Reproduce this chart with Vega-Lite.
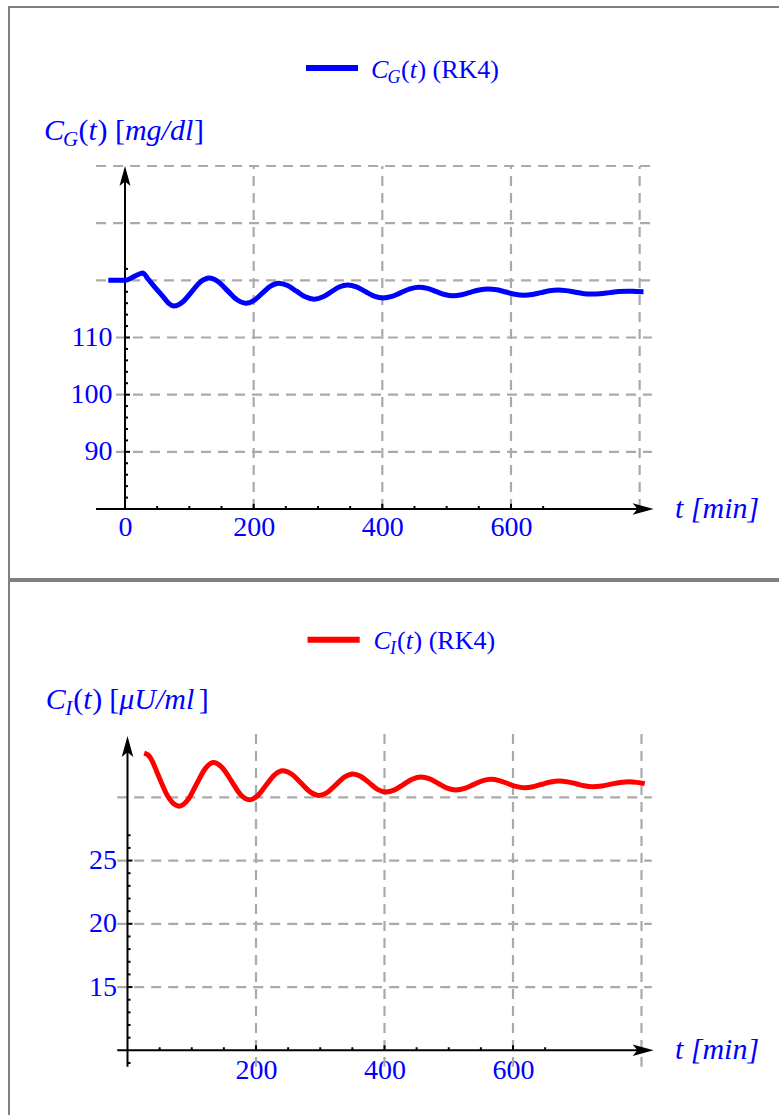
{
  "$schema": "https://vega.github.io/schema/vega-lite/v6.json",
  "padding": {"left": 8, "top": 6, "right": 0, "bottom": 0},
  "spacing": 0,
  "background": "white",
  "config": {
    "view": {"stroke": "#808080", "strokeWidth": 2},
    "font": "Liberation Serif",
    "text": {"font": "Liberation Serif", "color": "#0000ff"},
    "axis": {"labelFont": "Liberation Serif", "labelFontSize": 28, "labelColor": "#0000ff", "domain": false, "ticks": false, "grid": false, "labelFlush": false, "labelOverlap": false}
  },
  "datasets": {
    "top_line": [
      {"t": -26, "v": 120.0}, {"t": 0, "v": 120.0}, {"t": 13.75, "v": 120.65}, {"t": 27.5, "v": 121.3},
      {"t": 36, "v": 120.2}, {"t": 45.6, "v": 118.9}, {"t": 61, "v": 116.9}, {"t": 68, "v": 115.95},
      {"t": 76, "v": 115.5}, {"t": 89.6, "v": 116.22}, {"t": 103.25, "v": 117.95}, {"t": 116.9, "v": 119.68},
      {"t": 130.5, "v": 120.4}, {"t": 144.9, "v": 119.76}, {"t": 159.25, "v": 118.2}, {"t": 173.6, "v": 116.64},
      {"t": 188, "v": 116.0}, {"t": 200.75, "v": 116.51}, {"t": 213.5, "v": 117.75}, {"t": 226.25, "v": 118.99},
      {"t": 239, "v": 119.5}, {"t": 252.75, "v": 119.09}, {"t": 266.5, "v": 118.1}, {"t": 280.25, "v": 117.11},
      {"t": 294, "v": 116.7}, {"t": 307, "v": 117.07}, {"t": 320, "v": 117.95}, {"t": 333, "v": 118.84},
      {"t": 346, "v": 119.2}, {"t": 359.75, "v": 118.86}, {"t": 373.5, "v": 118.05}, {"t": 387.25, "v": 117.24},
      {"t": 401, "v": 116.9}, {"t": 415, "v": 117.18}, {"t": 429, "v": 117.85}, {"t": 443, "v": 118.52},
      {"t": 457, "v": 118.8}, {"t": 470.25, "v": 118.58}, {"t": 483.5, "v": 118.05}, {"t": 496.75, "v": 117.52},
      {"t": 510, "v": 117.3}, {"t": 523.5, "v": 117.48}, {"t": 537, "v": 117.9}, {"t": 550.5, "v": 118.32},
      {"t": 564, "v": 118.5}, {"t": 578, "v": 118.34}, {"t": 592, "v": 117.95}, {"t": 606, "v": 117.56},
      {"t": 620, "v": 117.4}, {"t": 633.25, "v": 117.53}, {"t": 646.5, "v": 117.85}, {"t": 659.75, "v": 118.17},
      {"t": 673, "v": 118.3}, {"t": 685.75, "v": 118.2}, {"t": 698.5, "v": 117.95}, {"t": 711.25, "v": 117.7},
      {"t": 724, "v": 117.6}, {"t": 738.5, "v": 117.67}, {"t": 753, "v": 117.85}, {"t": 767.5, "v": 118.03},
      {"t": 782, "v": 118.1}, {"t": 794, "v": 118.05}, {"t": 806, "v": 118.0}
    ],
    "bot_line": [
      {"t": 26, "v": 33.5}, {"t": 31, "v": 33.38}, {"t": 36, "v": 33.1}, {"t": 47, "v": 31.85},
      {"t": 62.5, "v": 30.1}, {"t": 72.9, "v": 29.45}, {"t": 80.7, "v": 29.3}, {"t": 94.0, "v": 29.8},
      {"t": 107.35, "v": 31.03}, {"t": 120.7, "v": 32.25}, {"t": 134, "v": 32.75}, {"t": 147.9, "v": 32.32},
      {"t": 161.8, "v": 31.28}, {"t": 175.7, "v": 30.23}, {"t": 189.6, "v": 29.8}, {"t": 202.6, "v": 30.14},
      {"t": 215.55, "v": 30.95}, {"t": 228.5, "v": 31.76}, {"t": 241.5, "v": 32.1}, {"t": 255.75, "v": 31.82},
      {"t": 270, "v": 31.13}, {"t": 284.25, "v": 30.43}, {"t": 298.5, "v": 30.15}, {"t": 311.5, "v": 30.4},
      {"t": 324.5, "v": 31.0}, {"t": 337.5, "v": 31.6}, {"t": 350.5, "v": 31.85}, {"t": 363.4, "v": 31.64},
      {"t": 376.25, "v": 31.14}, {"t": 389.1, "v": 30.63}, {"t": 402, "v": 30.42}, {"t": 415.7, "v": 30.59},
      {"t": 429.4, "v": 31.01}, {"t": 443.1, "v": 31.43}, {"t": 456.8, "v": 31.6}, {"t": 470.35, "v": 31.45},
      {"t": 483.9, "v": 31.09}, {"t": 497.45, "v": 30.73}, {"t": 511, "v": 30.58}, {"t": 524.7, "v": 30.7},
      {"t": 538.4, "v": 31.0}, {"t": 552.1, "v": 31.3}, {"t": 565.8, "v": 31.42}, {"t": 578.75, "v": 31.32},
      {"t": 591.7, "v": 31.09}, {"t": 604.65, "v": 30.86}, {"t": 617.6, "v": 30.76}, {"t": 631.2, "v": 30.84},
      {"t": 644.8, "v": 31.03}, {"t": 658.4, "v": 31.21}, {"t": 672, "v": 31.29}, {"t": 685, "v": 31.22},
      {"t": 698, "v": 31.07}, {"t": 711, "v": 30.91}, {"t": 724, "v": 30.84}, {"t": 738.25, "v": 30.9},
      {"t": 752.5, "v": 31.04}, {"t": 766.75, "v": 31.17}, {"t": 781, "v": 31.23}, {"t": 793, "v": 31.18},
      {"t": 805, "v": 31.08}
    ],
    "xt_minor": [{"t": 50}, {"t": 100}, {"t": 150}, {"t": 250}, {"t": 300}, {"t": 350}, {"t": 450}, {"t": 500}, {"t": 550}, {"t": 650}],
    "xt_major": [{"t": 200}, {"t": 400}, {"t": 600}],
    "top_yt_minor": [{"v": 82}, {"v": 84}, {"v": 86}, {"v": 88}, {"v": 92}, {"v": 94}, {"v": 96}, {"v": 98}, {"v": 102}, {"v": 104}, {"v": 106}, {"v": 108}, {"v": 112}, {"v": 114}, {"v": 116}, {"v": 118}, {"v": 120}, {"v": 122}],
    "top_yt_major": [{"v": 90}, {"v": 100}, {"v": 110}],
    "bot_yt_minor": [{"v": 9}, {"v": 11}, {"v": 12}, {"v": 13}, {"v": 14}, {"v": 16}, {"v": 17}, {"v": 18}, {"v": 19}, {"v": 21}, {"v": 22}, {"v": 23}, {"v": 24}, {"v": 26}, {"v": 27}],
    "bot_yt_major": [{"v": 15}, {"v": 20}, {"v": 25}],
    "vgrid": [{"t": 200}, {"t": 400}, {"t": 600}, {"t": 800}],
    "top_hgrid_open": [{"v": 120}, {"v": 130}, {"v": 140}],
    "top_hgrid_labelled": [{"v": 90}, {"v": 100}, {"v": 110}],
    "bot_hgrid": [{"v": 15}, {"v": 20}, {"v": 25}, {"v": 30}]
  },
  "vconcat": [
    {
      "width": 780,
      "height": 572,
      "layer": [
        {"data": {"name": "top_line"}, "mark": {"type": "line", "color": "#0000ff", "strokeWidth": 5, "interpolate": "monotone", "opacity": 0},
         "encoding": {
           "x": {"field": "t", "type": "quantitative", "scale": {"domain": [-180.32, 1032.18], "nice": false, "zero": false},
                 "axis": {"orient": "bottom", "offset": -70, "values": [0, 200, 400, 600], "labelPadding": 4, "title": null, "domain": false, "ticks": false, "grid": false}},
           "y": {"field": "v", "type": "quantitative", "scale": {"domain": [67.756, 167.81], "nice": false, "zero": false},
                 "axis": {"orient": "left", "offset": -116, "values": [90, 100, 110], "labelPadding": 13, "title": null, "domain": false, "ticks": false, "grid": false}}
         }},
        {"data": {"name": "vgrid"}, "mark": {"type": "rule", "color": "#aaaaaa", "strokeWidth": 2.2, "strokeDash": [10, 7]},
         "encoding": {"x": {"field": "t", "type": "quantitative"}, "y": {"datum": 80}, "y2": {"datum": 140}}},
        {"data": {"name": "top_hgrid_open"}, "mark": {"type": "rule", "color": "#aaaaaa", "strokeWidth": 2.2, "strokeDash": [10, 7]},
         "encoding": {"y": {"field": "v", "type": "quantitative"}, "x": {"datum": -45}, "x2": {"datum": 819}}},
        {"data": {"name": "top_hgrid_labelled"}, "mark": {"type": "rule", "color": "#aaaaaa", "strokeWidth": 2.2, "strokeDash": [10, 7]},
         "encoding": {"y": {"field": "v", "type": "quantitative"}, "x": {"datum": -14}, "x2": {"datum": 819}}},
        {"data": {"values": [{}]}, "mark": {"type": "rule", "color": "black", "strokeWidth": 2},
         "encoding": {"x": {"datum": -45}, "x2": {"datum": 800}, "y": {"datum": 80}}},
        {"data": {"values": [{}]}, "mark": {"type": "rule", "color": "black", "strokeWidth": 2},
         "encoding": {"x": {"datum": 0}, "y": {"datum": 80}, "y2": {"datum": 138}}},
        {"data": {"values": [{}]}, "mark": {"type": "point", "shape": "M1,0L-1,-0.55L-0.55,0L-1,0.55Z", "size": 441, "filled": true, "color": "black", "opacity": 1, "strokeWidth": 0},
         "encoding": {"x": {"datum": 805.5}, "y": {"datum": 80}}},
        {"data": {"values": [{}]}, "mark": {"type": "point", "shape": "M0,-1L0.55,1L0,0.55L-0.55,1Z", "size": 400, "filled": true, "color": "black", "opacity": 1, "strokeWidth": 0},
         "encoding": {"x": {"datum": 0}, "y": {"datum": 138.25}}},
        {"data": {"name": "xt_minor"}, "mark": {"type": "rule", "color": "black", "strokeWidth": 2},
         "encoding": {"x": {"field": "t", "type": "quantitative"}, "y": {"datum": 80}, "y2": {"datum": 80.52}}},
        {"data": {"name": "xt_major"}, "mark": {"type": "rule", "color": "black", "strokeWidth": 2},
         "encoding": {"x": {"field": "t", "type": "quantitative"}, "y": {"datum": 80}, "y2": {"datum": 80.9}}},
        {"data": {"name": "top_yt_minor"}, "mark": {"type": "rule", "color": "black", "strokeWidth": 2},
         "encoding": {"y": {"field": "v", "type": "quantitative"}, "x": {"datum": 0}, "x2": {"datum": 4.7}}},
        {"data": {"name": "top_yt_major"}, "mark": {"type": "rule", "color": "black", "strokeWidth": 2},
         "encoding": {"y": {"field": "v", "type": "quantitative"}, "x": {"datum": 0}, "x2": {"datum": 7.8}}},
        {"data": {"name": "top_line"}, "mark": {"type": "line", "color": "#0000ff", "strokeWidth": 5, "interpolate": "monotone"},
         "encoding": {"x": {"field": "t", "type": "quantitative"}, "y": {"field": "v", "type": "quantitative"}}},
        {"data": {"values": [{}]}, "mark": {"type": "rule", "color": "#0000ff", "strokeWidth": 6},
         "encoding": {"x": {"datum": 281.4}, "x2": {"datum": 362.2}, "y": {"datum": 157.14}}},
        {"data": {"values": [{"s": "C"}]}, "mark": {"type": "text", "fontSize": 26, "fontStyle": "italic", "align": "left", "baseline": "alphabetic", "dx": 0},
         "encoding": {"x": {"datum": 382.4}, "y": {"datum": 155.39}, "text": {"field": "s"}}},
        {"data": {"values": [{"s": "G"}]}, "mark": {"type": "text", "fontSize": 18, "fontStyle": "italic", "align": "left", "baseline": "alphabetic", "dx": 16.5, "dy": 5},
         "encoding": {"x": {"datum": 382.4}, "y": {"datum": 155.39}, "text": {"field": "s"}}},
        {"data": {"values": [{"s": "("}]}, "mark": {"type": "text", "fontSize": 26, "align": "left", "baseline": "alphabetic", "dx": 30},
         "encoding": {"x": {"datum": 382.4}, "y": {"datum": 155.39}, "text": {"field": "s"}}},
        {"data": {"values": [{"s": "t"}]}, "mark": {"type": "text", "fontSize": 26, "fontStyle": "italic", "align": "left", "baseline": "alphabetic", "dx": 38.7},
         "encoding": {"x": {"datum": 382.4}, "y": {"datum": 155.39}, "text": {"field": "s"}}},
        {"data": {"values": [{"s": ")"}]}, "mark": {"type": "text", "fontSize": 26, "align": "left", "baseline": "alphabetic", "dx": 46.4},
         "encoding": {"x": {"datum": 382.4}, "y": {"datum": 155.39}, "text": {"field": "s"}}},
        {"data": {"values": [{"s": "(RK4)"}]}, "mark": {"type": "text", "fontSize": 26, "align": "left", "baseline": "alphabetic", "dx": 61.6},
         "encoding": {"x": {"datum": 382.4}, "y": {"datum": 155.39}, "text": {"field": "s"}}},
        {"data": {"values": [{"s": "C"}]}, "mark": {"type": "text", "fontSize": 30, "fontStyle": "italic", "align": "left", "baseline": "alphabetic", "dx": 0},
         "encoding": {"x": {"datum": -126}, "y": {"datum": 144.54}, "text": {"field": "s"}}},
        {"data": {"values": [{"s": "G"}]}, "mark": {"type": "text", "fontSize": 21, "fontStyle": "italic", "align": "left", "baseline": "alphabetic", "dx": 19, "dy": 6},
         "encoding": {"x": {"datum": -126}, "y": {"datum": 144.54}, "text": {"field": "s"}}},
        {"data": {"values": [{"s": "("}]}, "mark": {"type": "text", "fontSize": 30, "align": "left", "baseline": "alphabetic", "dx": 34.5},
         "encoding": {"x": {"datum": -126}, "y": {"datum": 144.54}, "text": {"field": "s"}}},
        {"data": {"values": [{"s": "t"}]}, "mark": {"type": "text", "fontSize": 30, "fontStyle": "italic", "align": "left", "baseline": "alphabetic", "dx": 44.5},
         "encoding": {"x": {"datum": -126}, "y": {"datum": 144.54}, "text": {"field": "s"}}},
        {"data": {"values": [{"s": ")"}]}, "mark": {"type": "text", "fontSize": 30, "align": "left", "baseline": "alphabetic", "dx": 53.5},
         "encoding": {"x": {"datum": -126}, "y": {"datum": 144.54}, "text": {"field": "s"}}},
        {"data": {"values": [{"s": "["}]}, "mark": {"type": "text", "fontSize": 30, "align": "left", "baseline": "alphabetic", "dx": 71},
         "encoding": {"x": {"datum": -126}, "y": {"datum": 144.54}, "text": {"field": "s"}}},
        {"data": {"values": [{"s": "mg/dl"}]}, "mark": {"type": "text", "fontSize": 30, "fontStyle": "italic", "align": "left", "baseline": "alphabetic", "dx": 81},
         "encoding": {"x": {"datum": -126}, "y": {"datum": 144.54}, "text": {"field": "s"}}},
        {"data": {"values": [{"s": "]"}]}, "mark": {"type": "text", "fontSize": 30, "align": "left", "baseline": "alphabetic", "dx": 150},
         "encoding": {"x": {"datum": -126}, "y": {"datum": 144.54}, "text": {"field": "s"}}},
        {"data": {"values": [{"s": "t [min]"}]}, "mark": {"type": "text", "fontSize": 30, "fontStyle": "italic", "align": "left", "baseline": "middle"},
         "encoding": {"x": {"datum": 855}, "y": {"datum": 80}, "text": {"field": "s"}}}
      ]
    },
    {
      "width": 780,
      "height": 545,
      "layer": [
        {"data": {"name": "bot_line"}, "mark": {"type": "line", "color": "#ff0000", "strokeWidth": 5, "interpolate": "monotone", "opacity": 0},
         "encoding": {
           "x": {"field": "t", "type": "quantitative", "scale": {"domain": [-184.44, 1029.57], "nice": false, "zero": false},
                 "axis": {"orient": "bottom", "offset": -75.7, "values": [200, 400, 600], "labelPadding": 6, "title": null, "domain": false, "ticks": false, "grid": false}},
           "y": {"field": "v", "type": "quantitative", "scale": {"domain": [4.016, 47.099], "nice": false, "zero": false},
                 "axis": {"orient": "left", "offset": -118.5, "values": [15, 20, 25], "labelPadding": 11, "title": null, "domain": false, "ticks": false, "grid": false}}
         }},
        {"data": {"name": "vgrid"}, "mark": {"type": "rule", "color": "#aaaaaa", "strokeWidth": 2.2, "strokeDash": [10, 7]},
         "encoding": {"x": {"field": "t", "type": "quantitative"}, "y": {"datum": 35}, "y2": {"datum": 8.7}}},
        {"data": {"name": "bot_hgrid"}, "mark": {"type": "rule", "color": "#aaaaaa", "strokeWidth": 2.2, "strokeDash": [10, 7]},
         "encoding": {"y": {"field": "v", "type": "quantitative"}, "x": {"datum": -16}, "x2": {"datum": 816}}},
        {"data": {"values": [{}]}, "mark": {"type": "rule", "color": "black", "strokeWidth": 2},
         "encoding": {"x": {"datum": -16}, "x2": {"datum": 800}, "y": {"datum": 10}}},
        {"data": {"values": [{}]}, "mark": {"type": "rule", "color": "black", "strokeWidth": 2},
         "encoding": {"x": {"datum": 0}, "y": {"datum": 8.7}, "y2": {"datum": 34}}},
        {"data": {"values": [{}]}, "mark": {"type": "point", "shape": "M1,0L-1,-0.55L-0.55,0L-1,0.55Z", "size": 441, "filled": true, "color": "black", "opacity": 1, "strokeWidth": 0},
         "encoding": {"x": {"datum": 802.6}, "y": {"datum": 10}}},
        {"data": {"values": [{}]}, "mark": {"type": "point", "shape": "M0,-1L0.55,1L0,0.55L-0.55,1Z", "size": 441, "filled": true, "color": "black", "opacity": 1, "strokeWidth": 0},
         "encoding": {"x": {"datum": 0}, "y": {"datum": 34.02}}},
        {"data": {"name": "xt_minor"}, "mark": {"type": "rule", "color": "black", "strokeWidth": 2},
         "encoding": {"x": {"field": "t", "type": "quantitative"}, "y": {"datum": 10}, "y2": {"datum": 10.24}}},
        {"data": {"name": "xt_major"}, "mark": {"type": "rule", "color": "black", "strokeWidth": 2},
         "encoding": {"x": {"field": "t", "type": "quantitative"}, "y": {"datum": 10}, "y2": {"datum": 10.4}}},
        {"data": {"name": "bot_yt_minor"}, "mark": {"type": "rule", "color": "black", "strokeWidth": 2},
         "encoding": {"y": {"field": "v", "type": "quantitative"}, "x": {"datum": 0}, "x2": {"datum": 4.7}}},
        {"data": {"name": "bot_yt_major"}, "mark": {"type": "rule", "color": "black", "strokeWidth": 2},
         "encoding": {"y": {"field": "v", "type": "quantitative"}, "x": {"datum": 0}, "x2": {"datum": 7.8}}},
        {"data": {"name": "bot_line"}, "mark": {"type": "line", "color": "#ff0000", "strokeWidth": 5, "interpolate": "monotone"},
         "encoding": {"x": {"field": "t", "type": "quantitative"}, "y": {"field": "v", "type": "quantitative"}}},
        {"data": {"values": [{}]}, "mark": {"type": "rule", "color": "#ff0000", "strokeWidth": 6},
         "encoding": {"x": {"datum": 280.2}, "x2": {"datum": 361.4}, "y": {"datum": 42.45}}},
        {"data": {"values": [{"s": "C"}]}, "mark": {"type": "text", "fontSize": 26, "fontStyle": "italic", "align": "left", "baseline": "alphabetic", "dx": 0},
         "encoding": {"x": {"datum": 383.0}, "y": {"datum": 41.72}, "text": {"field": "s"}}},
        {"data": {"values": [{"s": "I"}]}, "mark": {"type": "text", "fontSize": 18, "fontStyle": "italic", "align": "left", "baseline": "alphabetic", "dx": 16.5, "dy": 5},
         "encoding": {"x": {"datum": 383.0}, "y": {"datum": 41.72}, "text": {"field": "s"}}},
        {"data": {"values": [{"s": "("}]}, "mark": {"type": "text", "fontSize": 26, "align": "left", "baseline": "alphabetic", "dx": 23.5},
         "encoding": {"x": {"datum": 383.0}, "y": {"datum": 41.72}, "text": {"field": "s"}}},
        {"data": {"values": [{"s": "t"}]}, "mark": {"type": "text", "fontSize": 26, "fontStyle": "italic", "align": "left", "baseline": "alphabetic", "dx": 32.2},
         "encoding": {"x": {"datum": 383.0}, "y": {"datum": 41.72}, "text": {"field": "s"}}},
        {"data": {"values": [{"s": ")"}]}, "mark": {"type": "text", "fontSize": 26, "align": "left", "baseline": "alphabetic", "dx": 39.9},
         "encoding": {"x": {"datum": 383.0}, "y": {"datum": 41.72}, "text": {"field": "s"}}},
        {"data": {"values": [{"s": "(RK4)"}]}, "mark": {"type": "text", "fontSize": 26, "align": "left", "baseline": "alphabetic", "dx": 55.1},
         "encoding": {"x": {"datum": 383.0}, "y": {"datum": 41.72}, "text": {"field": "s"}}},
        {"data": {"values": [{"s": "C"}]}, "mark": {"type": "text", "fontSize": 30, "fontStyle": "italic", "align": "left", "baseline": "alphabetic", "dx": 0},
         "encoding": {"x": {"datum": -127.3}, "y": {"datum": 36.98}, "text": {"field": "s"}}},
        {"data": {"values": [{"s": "I"}]}, "mark": {"type": "text", "fontSize": 21, "fontStyle": "italic", "align": "left", "baseline": "alphabetic", "dx": 19.5, "dy": 6},
         "encoding": {"x": {"datum": -127.3}, "y": {"datum": 36.98}, "text": {"field": "s"}}},
        {"data": {"values": [{"s": "("}]}, "mark": {"type": "text", "fontSize": 30, "align": "left", "baseline": "alphabetic", "dx": 27.5},
         "encoding": {"x": {"datum": -127.3}, "y": {"datum": 36.98}, "text": {"field": "s"}}},
        {"data": {"values": [{"s": "t"}]}, "mark": {"type": "text", "fontSize": 30, "fontStyle": "italic", "align": "left", "baseline": "alphabetic", "dx": 37.5},
         "encoding": {"x": {"datum": -127.3}, "y": {"datum": 36.98}, "text": {"field": "s"}}},
        {"data": {"values": [{"s": ")"}]}, "mark": {"type": "text", "fontSize": 30, "align": "left", "baseline": "alphabetic", "dx": 46.5},
         "encoding": {"x": {"datum": -127.3}, "y": {"datum": 36.98}, "text": {"field": "s"}}},
        {"data": {"values": [{"s": "["}]}, "mark": {"type": "text", "fontSize": 30, "align": "left", "baseline": "alphabetic", "dx": 63.5},
         "encoding": {"x": {"datum": -127.3}, "y": {"datum": 36.98}, "text": {"field": "s"}}},
        {"data": {"values": [{"s": "μU/ml"}]}, "mark": {"type": "text", "fontSize": 30, "fontStyle": "italic", "align": "left", "baseline": "alphabetic", "dx": 73.5},
         "encoding": {"x": {"datum": -127.3}, "y": {"datum": 36.98}, "text": {"field": "s"}}},
        {"data": {"values": [{"s": "]"}]}, "mark": {"type": "text", "fontSize": 30, "align": "left", "baseline": "alphabetic", "dx": 153},
         "encoding": {"x": {"datum": -127.3}, "y": {"datum": 36.98}, "text": {"field": "s"}}},
        {"data": {"values": [{"s": "t [min]"}]}, "mark": {"type": "text", "fontSize": 30, "fontStyle": "italic", "align": "left", "baseline": "middle"},
         "encoding": {"x": {"datum": 852}, "y": {"datum": 10}, "text": {"field": "s"}}}
      ]
    }
  ]
}
